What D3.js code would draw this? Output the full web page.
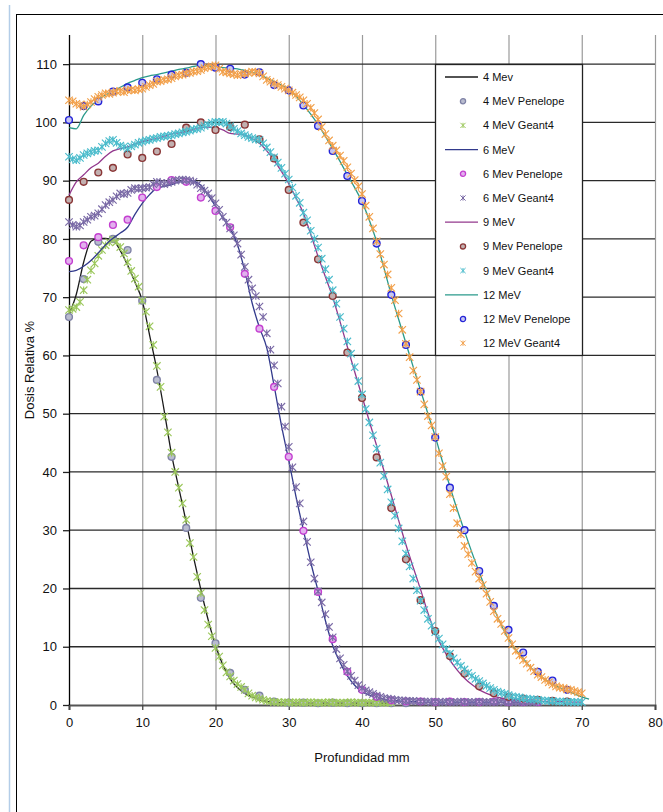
<!DOCTYPE html>
<html>
<head>
<meta charset="utf-8">
<title>Dosis relativa vs profundidad</title>
<script src="https://cdn.jsdelivr.net/npm/d3@7"></script>
<style>
body { margin: 0; background: #fff; }
svg text { font-family: "Liberation Sans", Arial, sans-serif; fill: #111; }
</style>
</head>
<body>
<svg id="chart" width="663" height="812"></svg>
<script>
// pasos de profundidad (mm) de cada tipo de serie
var lineStep = 1, penStep = 2, g4Step = 0.5;

// ---- 4 MeV ----
var line4 = [67,70.5,76,79.6,80.1,80.1,79.8,78,75.5,72.6,
  69.4,63.5,57.5,50.5,43,37.2,31.4,25.4,19.8,14.6,
  10.2,6.9,4.5,3,2,1.4,0.9,0.6,0.4,0.35,
  0.3,0.3,0.3,0.3,0.3,0.3,0.3,0.3,0.3,0.3,
  0.3,0.3,0.3,0.3,0.3];
var pen4 = [66.6,73.1,79.5,80,78.1,69.4,55.8,42.6,30.4,18.4,
  10.6,5.5,2.6,1.6,0.6,0.4,0.4,0.3,0.4,0.3,
  0.3,0.3,0.3,0.3];
var g4_4 = [67.8,68.0,68.3,69.2,71.2,73.0,74.6,75.8,77.1,78.1,
  78.9,79.4,79.9,79.5,78.6,77.5,76.0,74.5,73.2,71.8,
  69.4,67.5,65.0,61.8,58.2,54.6,49.5,46.8,43.3,40.0,
  37.3,34.6,31.8,27.8,25.4,22.0,19.2,16.3,13.8,11.8,
  9.8,8.3,6.8,5.6,4.9,4.2,3.6,3.1,2.6,2.0,
  1.6,1.3,1.1,0.9,0.7,0.6,0.5,0.5,0.4,0.5,
  0.4,0.4,0.5,0.4,0.4,0.4,0.5,0.4,0.4,0.4,
  0.4,0.5,0.4,0.4,0.4,0.4,0.4,0.5,0.4,0.4,
  0.4,0.4,0.4,0.4,0.4,0.4,0.4,0.4,0.4];

// ---- 6 MeV ----
var line6 = [74.4,74.6,75.3,76.3,77.6,79,80.1,81,82,84.2,
  86.1,87.6,88.7,89,89.3,89.8,90.1,89.9,89.2,87.5,
  85.6,83.6,81.8,79,74.5,69,64.8,61.3,54.8,48,
  42,35.7,30,24.5,19.6,14.5,10.2,7.3,5,3.4,
  2.3,1.7,1.3,1,0.8,0.7,0.6,0.6,0.5,0.5,
  0.5,0.5,0.5,0.5,0.5,0.5,0.5,0.5,0.5,0.5,
  0.5,0.5,0.5,0.5,0.5];
var pen6 = [76.2,78.9,80.3,82.4,83.3,87.1,88.9,90.1,89.8,87.1,
  84.8,82,74,64.6,54.6,42.6,29.9,19.4,11.3,5.7,
  2.6,1.4,0.8,0.6,0.6,0.5,0.6,0.5,0.5,0.6,
  0.5,0.5,0.5];
var g4_6 = [82.9,82.4,82.1,82.3,82.9,83.3,83.8,84.0,84.4,85.1,
  85.8,86.3,86.7,87.3,87.8,87.7,87.9,88.4,88.7,88.6,
  88.7,88.8,88.9,89.4,89.8,89.6,89.4,89.6,89.8,90.0,
  90.1,90.2,90.1,90.0,89.8,89.3,88.7,88.3,87.8,87.0,
  86.1,85.0,83.8,82.8,81.8,80.6,79.2,77.3,75.2,73.0,
  71.5,70.2,68.4,66.6,63.8,61.0,58.3,55.2,51.2,47.8,
  44.3,40.8,37.4,34.6,31.5,28.0,24.5,21.7,19.5,17.6,
  15.6,13.4,11.6,9.6,8.0,6.9,5.8,5.0,4.2,3.4,
  2.9,2.5,2.2,1.9,1.6,1.4,1.2,1.1,1.0,0.9,
  0.8,0.8,0.7,0.7,0.7,0.6,0.6,0.6,0.6,0.5,
  0.6,0.5,0.5,0.6,0.5,0.5,0.5,0.6,0.5,0.5,
  0.5,0.5,0.6,0.5,0.5,0.5,0.5,0.5,0.6,0.5,
  0.5,0.5,0.5,0.5,0.5,0.5,0.5,0.5,0.5];

// ---- 9 MeV ----
var line9 = [87.5,89.8,91,92.2,93,94.2,95.1,95.5,95.8,96.3,
  96.7,97,97.2,97.6,98,98.2,98.4,98.8,99.1,99.2,
  99.1,98.7,98.1,98,97.8,97.2,96.4,95.1,93.5,91.6,
  89.5,87,84.4,80.8,77,73.5,70,65.8,61.5,57.2,
  53,48.7,44.5,40.2,36,31.7,27.5,23.6,19.8,15.8,
  12.3,9.8,7.7,6,4.6,3.5,2.6,2,1.5,1.2,
  1,0.9,0.8,0.7,0.7,0.6,0.6,0.6,0.5,0.5,
  0.5];
var pen9 = [86.7,89.8,91.4,92.2,94.5,93.9,95,96.3,99.1,100,
  98.7,99.2,99.6,97.1,93.8,88.4,82.8,76.5,70.2,60.5,
  52.7,42.5,33.8,25,18,12.7,8.4,5.4,3.2,2,
  1.4,1.1,0.9,0.7,0.6];
var g4_9 = [94.1,93.7,93.5,93.9,94.4,94.7,94.9,95.1,95.2,95.8,
  96.4,96.8,97.0,96.5,96.0,95.8,95.5,95.9,96.2,96.5,
  96.7,96.9,97.0,97.2,97.3,97.5,97.6,97.7,97.8,98.0,
  98.1,98.3,98.4,98.6,98.8,98.9,99.1,99.4,99.6,99.9,
  100.1,100.0,100.1,99.8,99.3,98.9,98.5,98.1,97.8,97.5,
  97.3,97.1,97.0,96.4,95.7,94.9,94.0,93.1,92.2,91.2,
  90.2,88.8,87.4,86.2,84.5,83.2,81.4,80.0,78.5,76.6,
  74.8,73.0,71.2,68.9,66.6,64.6,62.4,60.3,58.0,55.6,
  53.3,50.8,48.5,46.3,44.0,41.6,39.3,37.0,34.8,32.5,
  30.3,28.1,26.0,23.8,21.7,19.7,17.9,16.3,14.8,13.6,
  12.5,11.4,10.4,9.6,8.8,8.0,7.3,6.7,6.1,5.5,
  5.0,4.5,4.1,3.7,3.3,2.9,2.6,2.3,2.1,1.9,
  1.7,1.5,1.4,1.3,1.15,1.1,1.0,0.95,0.9,0.8,
  0.75,0.7,0.65,0.6,0.6,0.6,0.55,0.55,0.5,0.5,
  0.5];

// ---- 12 MeV ----
var line12 = [99.1,98.9,101.2,102.8,103.9,104.7,105.3,106,106.7,107.2,
  107.7,108,108.2,108.5,108.8,109.1,109.3,109.6,109.8,109.7,
  109.5,109.4,109.3,109.2,108.9,108.6,108.2,107.6,107,106.4,
  105.7,104.5,103,101.4,99.6,97.6,95.5,93.3,91,88.8,
  86.4,83.2,79.5,75,70.4,66.2,62.1,58,54,50,
  46.1,41.7,37.5,33.5,29.8,26.2,22.8,19.6,16.6,13.8,
  11.3,9.5,8,6.5,5.3,4.4,3.6,3,2.4,1.9,
  1.4,1];
var pen12 = [100.4,102.8,103.6,105.3,106,106.8,107.4,108.2,108.5,110,
  109.4,109.2,108.2,108.6,106.4,105.5,102.9,99.4,95.1,90.8,
  86.5,79.2,70.4,61.8,53.8,45.9,37.3,30,23,17,
  12.9,9,5.7,4.2,2.6];
var g4_12 = [103.8,103.6,103.2,103.0,102.7,103.1,103.5,104.0,104.4,104.7,
  105.0,104.9,105.1,105.3,105.4,105.2,105.5,105.6,105.5,105.7,
  105.8,106.1,106.4,106.6,107.0,107.1,107.3,107.4,107.6,107.9,
  108.1,108.2,108.4,108.5,108.7,108.8,109.0,109.3,109.5,109.6,
  109.8,109.2,108.7,108.6,108.4,108.3,108.1,108.3,108.4,108.5,
  108.7,108.6,108.4,107.9,107.3,107.0,106.7,106.4,106.1,105.8,
  105.5,105.1,104.7,104.3,103.8,103.2,102.5,101.6,100.5,99.2,
  98.0,96.9,96.0,95.2,94.3,93.4,92.3,91.2,90.1,89.0,
  87.7,85.7,83.8,81.8,79.6,77.4,75.6,73.9,71.6,69.5,
  67.2,64.4,62.0,59.7,57.4,55.8,53.8,51.6,49.6,48.0,
  46.0,43.2,41.0,39.2,36.2,33.8,31.2,29.3,27.3,25.9,
  24.4,22.9,21.7,20.6,19.1,17.7,16.1,14.8,13.9,12.7,
  11.5,10.4,9.3,8.5,7.7,7.1,6.4,5.8,5.2,4.8,
  4.3,3.9,3.5,3.2,3.0,2.9,2.7,2.6,2.4,2.2,
  2.0];

var xTicks = [0,10,20,30,40,50,60,70,80];
var yTicks = [0,10,20,30,40,50,60,70,80,90,100,110];

// orden igual que la leyenda
var series = [
  {name:"4 Mev",           type:"line", vals:line4,  step:lineStep, color:"#1a1a1a"},
  {name:"4 MeV Penelope",  type:"pen",  vals:pen4,   step:penStep,  color:"#7f82a6", fill:"#b9bccf"},
  {name:"4 MeV Geant4",    type:"g4",   vals:g4_4,   step:g4Step,   color:"#9bc75b"},
  {name:"6 MeV",           type:"line", vals:line6,  step:lineStep, color:"#323a8c"},
  {name:"6 Mev Penelope",  type:"pen",  vals:pen6,   step:penStep,  color:"#c43fd0", fill:"#e2b0ee"},
  {name:"6 MeV Geant4",    type:"g4",   vals:g4_6,   step:g4Step,   color:"#7a6aa6"},
  {name:"9 MeV",           type:"line", vals:line9,  step:lineStep, color:"#93388d"},
  {name:"9 Mev Penelope",  type:"pen",  vals:pen9,   step:penStep,  color:"#8a3636", fill:"#c2b0b0"},
  {name:"9 MeV Geant4",    type:"g4",   vals:g4_9,   step:g4Step,   color:"#4bbccc"},
  {name:"12 MeV",          type:"line", vals:line12, step:lineStep, color:"#2a9a8b"},
  {name:"12 MeV Penelope", type:"pen",  vals:pen12,  step:penStep,  color:"#2424d8", fill:"#c6c6f0"},
  {name:"12 MeV Geant4",   type:"g4",   vals:g4_12,  step:g4Step,   color:"#f2a04a"}
];

var svg = d3.select("#chart");
// (no usar "top": choca con window.top)
var pLeft = 69, pRight = 655, pTop = 35, pBottom = 705;

var x = d3.scaleLinear().domain([0, 80]).range([pLeft, pRight]);
var y = d3.scaleLinear().domain([0, 115]).range([pBottom, pTop]);

// marco exterior
svg.append("line").attr("x1", 9.5).attr("x2", 9.5).attr("y1", 5).attr("y2", 812)
  .attr("stroke", "#b3cde8").attr("stroke-width", 1.5);
svg.append("rect").attr("x", 16.5).attr("y", 14.5).attr("width", 700).attr("height", 900)
  .attr("fill", "none").attr("stroke", "#000").attr("stroke-width", 1);

// rejilla vertical
svg.append("g").selectAll("line").data(xTicks.slice(1)).enter().append("line")
  .attr("x1", function(d){ return x(d) + 0.5; }).attr("x2", function(d){ return x(d) + 0.5; })
  .attr("y1", pTop).attr("y2", pBottom)
  .attr("stroke", "#9a9a9a").attr("stroke-width", 1.2);

// rejilla horizontal
svg.append("g").selectAll("line").data(yTicks.slice(1)).enter().append("line")
  .attr("x1", pLeft).attr("x2", pRight)
  .attr("y1", function(d){ return y(d); }).attr("y2", function(d){ return y(d); })
  .attr("stroke", "#2a2a2a").attr("stroke-width", 1.3);

// ejes
var gx = svg.append("g").attr("transform", "translate(0," + pBottom + ")")
  .call(d3.axisBottom(x).tickValues(xTicks).tickSize(5).tickPadding(8));
gx.select(".domain").attr("stroke", "#555").attr("stroke-width", 2);
gx.selectAll(".tick line").attr("stroke", "#444").attr("stroke-width", 1.3);
gx.selectAll(".tick text").attr("font-size", 13).attr("fill", "#111")
  .attr("font-family", "Liberation Sans, Arial, sans-serif");

var gy = svg.append("g").attr("transform", "translate(" + pLeft + ",0)")
  .call(d3.axisLeft(y).tickValues(yTicks).tickSize(6).tickPadding(6));
gy.select(".domain").attr("d", "M0.5," + pTop + "V" + pBottom).attr("stroke", "#000").attr("stroke-width", 1.3);
gy.selectAll(".tick line").attr("stroke", "#222").attr("stroke-width", 1.3);
gy.selectAll(".tick text").attr("font-size", 13).attr("fill", "#111")
  .attr("font-family", "Liberation Sans, Arial, sans-serif");

// titulos de ejes
svg.append("text").attr("x", 362).attr("y", 762).attr("text-anchor", "middle")
  .attr("font-size", 13).text("Profundidad mm");
svg.append("text").attr("transform", "translate(34,370) rotate(-90)")
  .attr("text-anchor", "middle").attr("font-size", 13).text("Dosis Relativa %");

function pts(s) {
  return s.vals.map(function(v, i){ return {d: i * s.step, v: v}; });
}

function star(r) {
  return "M" + (-r) + "," + (-r) + "L" + r + "," + r +
         "M" + (-r) + "," + r + "L" + r + "," + (-r) +
         "M0," + (-r) + "L0," + r;
}

var lineGen = d3.line()
  .x(function(p){ return x(p.d); })
  .y(function(p){ return y(p.v); })
  .curve(d3.curveMonotoneX);

var plot = svg.append("g");
series.forEach(function(s) {
  var data = pts(s);
  if (s.type === "line") {
    plot.append("path").datum(data).attr("d", lineGen)
      .attr("fill", "none").attr("stroke", s.color).attr("stroke-width", 1.3);
  } else if (s.type === "pen") {
    plot.append("g").selectAll("circle").data(data).enter().append("circle")
      .attr("cx", function(p){ return x(p.d); })
      .attr("cy", function(p){ return y(p.v); })
      .attr("r", 3.4)
      .attr("fill", s.fill).attr("stroke", s.color).attr("stroke-width", 1.4);
  } else {
    plot.append("g").selectAll("path").data(data).enter().append("path")
      .attr("transform", function(p){ return "translate(" + x(p.d) + "," + y(p.v) + ")"; })
      .attr("d", star(3.7))
      .attr("fill", "none").attr("stroke", s.color).attr("stroke-width", 1.15);
  }
});

// leyenda
var lg = svg.append("g");
lg.append("rect").attr("x", 435.5).attr("y", 64.5).attr("width", 147).attr("height", 291)
  .attr("fill", "#fff").attr("stroke", "#222").attr("stroke-width", 1.3);
var item = lg.selectAll("g.item").data(series).enter().append("g")
  .attr("class", "item")
  .attr("transform", function(d, i){ return "translate(0," + (77 + i * 24.2) + ")"; });
item.each(function(s) {
  var g = d3.select(this);
  if (s.type === "line") {
    g.append("line").attr("x1", 445).attr("x2", 478).attr("y1", 0).attr("y2", 0)
      .attr("stroke", s.color).attr("stroke-width", 1.3);
  } else if (s.type === "pen") {
    g.append("circle").attr("cx", 463).attr("cy", 0).attr("r", 2.6)
      .attr("fill", s.fill).attr("stroke", s.color).attr("stroke-width", 1.3);
  } else {
    g.append("path").attr("transform", "translate(463,0)").attr("d", star(2.6))
      .attr("fill", "none").attr("stroke", s.color).attr("stroke-width", 1);
  }
  g.append("text").attr("x", 483).attr("y", 4).attr("font-size", 11).attr("fill", "#222")
    .text(s.name);
});
</script>
</body>
</html>
